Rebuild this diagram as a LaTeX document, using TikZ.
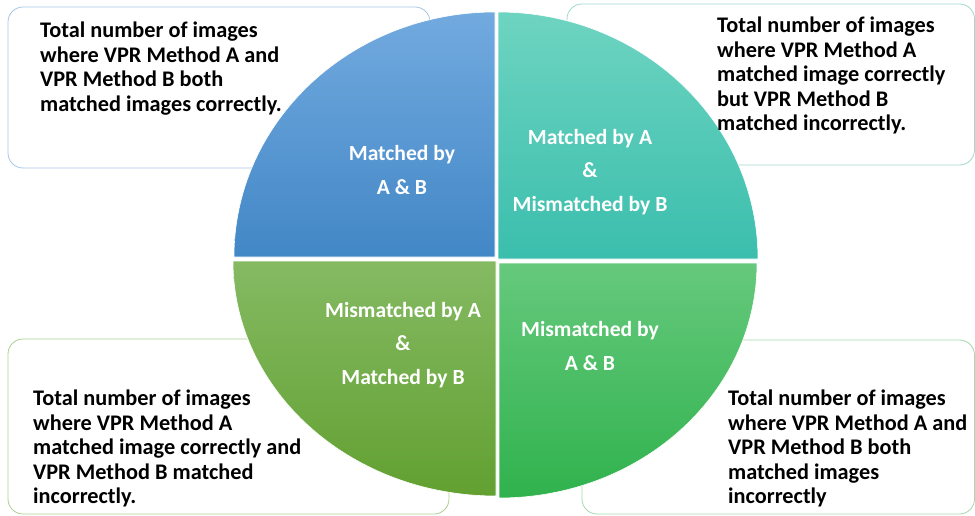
\documentclass[tikz,border=0pt]{standalone}
\usepackage{fontspec}
\setmainfont{Carlito}
\definecolor{bluetop}{HTML}{72AADF}
\definecolor{bluebot}{HTML}{4287C6}
\definecolor{tealtop}{HTML}{6ED4C1}
\definecolor{tealbot}{HTML}{3BBEAD}
\definecolor{grntop}{HTML}{85BA63}
\definecolor{grnbot}{HTML}{62A031}
\definecolor{lgtop}{HTML}{66C97D}
\definecolor{lgbot}{HTML}{30B24D}
\definecolor{bdblue}{HTML}{A6C6E6}
\definecolor{bdteal}{HTML}{9FD9CF}
\definecolor{bdgreen}{HTML}{AACF92}
\definecolor{bdlgreen}{HTML}{A3D9AE}
\tikzset{
  infobox/.style={fill=white, line width=0.8pt, rounded corners=15pt},
  infotext/.style={anchor=north west, inner sep=0pt, align=left, text=black,
    font=\fontsize{22.3}{24.4}\selectfont\bfseries},
  quadtext/.style={anchor=center, inner sep=0pt, align=center, text=white,
    font=\fontsize{21.6}{33.5}\selectfont\bfseries},
  quadrant/.style={draw=white, line width=0.6pt}
}
\begin{document}
\begin{tikzpicture}[x=1pt,y=-1pt]
\useasboundingbox (0,0) rectangle (975,516);
% boxes
\draw[infobox, draw=bdblue] (8,7) rectangle (430,168);
\draw[infobox, draw=bdteal] (567,4) rectangle (974.5,165);
\draw[infobox, draw=bdgreen] (8,339) rectangle (449,514);
\draw[infobox, draw=bdlgreen] (582,340) rectangle (974.5,514);
% quadrants
\shade[quadrant, top color=bluetop, bottom color=bluebot]
  (495,257) -- (234,257) arc[start angle=180, end angle=270, x radius=261, y radius=245] -- cycle;
\shade[quadrant, top color=tealtop, bottom color=tealbot]
  (498,259) -- (498,12) arc[start angle=270, end angle=360, x radius=260, y radius=247] -- cycle;
\shade[quadrant, top color=grntop, bottom color=grnbot]
  (496,261) -- (233,261) arc[start angle=180, end angle=90, x radius=263, y radius=235] -- cycle;
\shade[quadrant, top color=lgtop, bottom color=lgbot]
  (499,263) -- (757,263) arc[start angle=0, end angle=90, x radius=258, y radius=235] -- cycle;
% box texts
\node[infotext] (t1) at (40,22) {Total number of images\\where VPR Method A and\\VPR Method B both\\matched images correctly.};
\node[infotext] (t2) at (717,17) {Total number of images\\where VPR Method A\\matched image correctly\\but VPR Method B\\matched incorrectly.};
\node[infotext] (t3) at (33,390) {Total number of images\\where VPR Method A\\matched image correctly and\\VPR Method B matched\\incorrectly.};
\node[infotext] (t4) at (728,390) {Total number of images\\where VPR Method A and\\VPR Method B both\\matched images\\incorrectly};
% quadrant labels
\node[quadtext] (q1) at (402,170) {Matched by\\A \& B};
\node[quadtext] (q2) at (590,172) {Matched by A\\\&\\Mismatched by B};
\node[quadtext] (q3) at (403,345) {Mismatched by A\\\&\\Matched by B};
\node[quadtext] (q4) at (590,346) {Mismatched by\\A \& B};
\end{tikzpicture}
\end{document}
